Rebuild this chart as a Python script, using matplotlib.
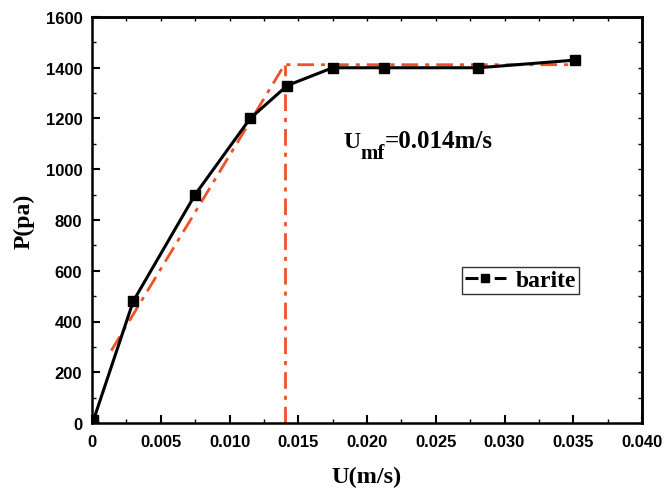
import matplotlib
matplotlib.use("Agg")
import matplotlib.pyplot as plt
from matplotlib.ticker import MultipleLocator

# data
u = [0.0001, 0.003, 0.0075, 0.0115, 0.0142, 0.0175, 0.0212, 0.0281, 0.0351]
p = [10, 480, 900, 1200, 1330, 1400, 1400, 1400, 1430]
fit_u = [0.0014, 0.0140, 0.0352]
fit_p = [285, 1412, 1412]
umf = 0.014
umf_p = 1412
xt = [0, 0.005, 0.010, 0.015, 0.020, 0.025, 0.030, 0.035, 0.040]
xtl = ['0', '0.005', '0.010', '0.015', '0.020', '0.025', '0.030', '0.035', '0.040']
yt = [0, 200, 400, 600, 800, 1000, 1200, 1400, 1600]
ytl = [str(v) for v in yt]

W, H = 664, 489
red = '#F05228'
fig = plt.figure(figsize=(6.64, 4.89), dpi=100)
ax = fig.add_axes([92 / W, 1 - 424 / H, 550 / W, 406 / H])

dd = (6, 2.5, 1.5, 2.5)
ax.plot(fit_u, fit_p, color=red, lw=2, dashes=dd, zorder=2)
ax.plot([umf, umf], [0, umf_p], color=red, lw=2, dashes=dd, zorder=2)
ax.plot(u, p, color='black', lw=2.2, marker='s', ms=7.5, mfc='black', mec='black',
        label='barite', zorder=3)

ax.set_xlim(0, 0.040)
ax.set_ylim(0, 1600)
ax.set_xticks(xt)
ax.set_xticklabels(xtl)
ax.set_yticks(yt)
ax.set_yticklabels(ytl)
ax.xaxis.set_minor_locator(MultipleLocator(0.0025))
ax.yaxis.set_minor_locator(MultipleLocator(100))

for lab in ax.get_xticklabels() + ax.get_yticklabels():
    lab.set_fontfamily('Liberation Sans')
    lab.set_fontweight('bold')
    lab.set_fontsize(12)

ax.tick_params(which='major', direction='in', length=6, width=1.5, top=False, right=False)
ax.tick_params(axis='x', which='major', pad=8)
ax.tick_params(axis='y', which='major', pad=7)
ax.tick_params(which='minor', direction='in', length=3, width=1, top=False, right=False)

# top/right small ticks
axt = ax.secondary_xaxis('top')
axt.set_xticks([i * 0.0025 for i in range(17)])
axt.tick_params(direction='in', length=3, width=1, labeltop=False)
axr = ax.secondary_yaxis('right')
axr.set_yticks([i * 100 for i in range(17)])
axr.tick_params(direction='in', length=3, width=1, labelright=False)
for s in ['top', 'bottom', 'left', 'right']:
    ax.spines[s].set_linewidth(1.8)
axt.spines['top'].set_linewidth(1.8)
axr.spines['right'].set_linewidth(1.8)

ax.set_xlabel('U(m/s)', fontfamily='Liberation Serif', fontweight='bold', fontsize=17.5, labelpad=12)
ax.set_ylabel('P(pa)', fontfamily='Liberation Serif', fontweight='bold', fontsize=17, labelpad=8)

# U_mf annotation
tf = dict(fontfamily='Liberation Serif', fontweight='bold', va='baseline', ha='left')
fig.text(343 / W, 1 - 148 / H, 'U', fontsize=17, **tf)
fig.text(360 / W, 1 - 159 / H, 'mf', fontsize=15, **tf)
fig.text(385 / W, 1 - 148 / H, '=0.014m/s', fontsize=18, **tf)

leg = ax.legend(loc='upper left', bbox_to_anchor=(0.6727, 0.3842), borderaxespad=0,
                frameon=True, fancybox=False, edgecolor='black', handlelength=1.75,
                handletextpad=0.4, borderpad=0.12,
                prop={'family': 'Liberation Serif', 'weight': 'bold', 'size': 17})
leg.get_frame().set_linewidth(1)
for h in leg.legend_handles:
    h.set_markersize(5.8)
    h.set_linestyle((0, (4.25, 5.3)))

fig.savefig('out.png', dpi=100)
